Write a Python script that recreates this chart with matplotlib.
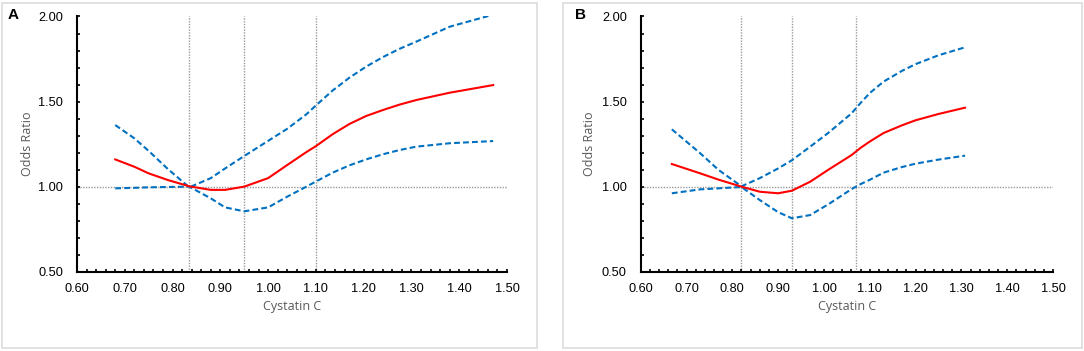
"""
Cystatin C と Odds Ratio（A / B パネル）
"""
import matplotlib
matplotlib.use('Agg')
import matplotlib.pyplot as plt
from matplotlib.ticker import MultipleLocator, FormatStrFormatter
from matplotlib.patches import Rectangle

plt.rcParams['font.family'] = ['Liberation Sans', 'DejaVu Sans']

# パネル A
a_x = [0.68, 0.72, 0.75, 0.79, 0.835, 0.88, 0.91, 0.95, 1.00, 1.04, 1.08, 1.10, 1.135,
       1.17, 1.205, 1.24, 1.275, 1.31, 1.38, 1.471]
a_or = [1.160, 1.117, 1.078, 1.039, 1.002, 0.981, 0.981, 1.000, 1.050, 1.127, 1.203, 1.238, 1.308,
        1.368, 1.415, 1.450, 1.482, 1.509, 1.552, 1.597]
a_lo = [0.990, 0.993, 0.996, 0.998, 1.000, 0.931, 0.878, 0.855, 0.878, 0.941, 1.000, 1.030, 1.082,
        1.125, 1.160, 1.190, 1.215, 1.235, 1.255, 1.268]
a_up_x = [0.68, 0.72, 0.75, 0.79, 0.835, 0.88, 0.91, 0.95, 1.00, 1.04, 1.08, 1.10, 1.135,
          1.17, 1.205, 1.24, 1.275, 1.31, 1.38, 1.461]
a_up = [1.362, 1.284, 1.210, 1.104, 0.996, 1.050, 1.107, 1.180, 1.269, 1.340, 1.425, 1.477, 1.565,
        1.640, 1.705, 1.761, 1.810, 1.852, 1.940, 2.003]
a_ref = [0.835, 0.95, 1.10]

# パネル B
b_x = [0.668, 0.73, 0.77, 0.82, 0.86, 0.90, 0.93, 0.97, 1.01, 1.06, 1.08, 1.10, 1.13,
       1.17, 1.20, 1.25, 1.308]
b_or = [1.133, 1.078, 1.041, 1.000, 0.970, 0.961, 0.976, 1.029, 1.100, 1.185, 1.228, 1.265, 1.315,
        1.360, 1.390, 1.427, 1.464]
b_up = [1.337, 1.196, 1.098, 1.002, 1.050, 1.107, 1.155, 1.235, 1.317, 1.430, 1.492, 1.550, 1.617,
        1.680, 1.720, 1.772, 1.819]
b_lo = [0.961, 0.984, 0.990, 0.998, 0.921, 0.850, 0.814, 0.833, 0.897, 0.985, 1.015, 1.040, 1.082,
        1.115, 1.135, 1.159, 1.182]
b_ref = [0.82, 0.93, 1.07]

xticks = [0.60, 0.70, 0.80, 0.90, 1.00, 1.10, 1.20, 1.30, 1.40, 1.50]
yticks = [0.50, 1.00, 1.50, 2.00]

RED = '#ff0000'
BLUE = '#0070c0'
GRAY = '#9a9a9a'
LABEL_FONT = ['Open Sans', 'DejaVu Sans']

fig = plt.figure(figsize=(10.84, 3.51), dpi=100)

# パネル枠
for x0, x1 in [(2, 537), (563, 1082)]:
    fig.patches.append(Rectangle((x0 / 1084, 3 / 351), (x1 - x0) / 1084, 345 / 351,
                                 transform=fig.transFigure, fill=False,
                                 edgecolor='#dcdcdc', linewidth=1.2))


def draw(ax, x, ors, up_x, up, lo, refs, ylab_x):
    ax.axhline(1.0, color=GRAY, linestyle=(0, (1, 1)), linewidth=1.0, zorder=1)
    for r in refs:
        ax.axvline(r, color=GRAY, linestyle=(0, (1, 1)), linewidth=1.0, zorder=1)
    ax.plot(up_x, up, color=BLUE, linestyle='--', linewidth=1.5, dashes=(2.8, 1.5))
    ax.plot(x, lo, color=BLUE, linestyle='--', linewidth=1.5, dashes=(2.8, 1.5))
    ax.plot(x, ors, color=RED, linewidth=1.5)
    ax.set_xlim(0.60, 1.50)
    ax.set_ylim(0.50, 2.00)
    ax.set_xticks(xticks)
    ax.set_yticks(yticks)
    ax.xaxis.set_minor_locator(MultipleLocator(0.02))
    ax.yaxis.set_minor_locator(MultipleLocator(0.1))
    ax.xaxis.set_major_formatter(FormatStrFormatter('%.2f'))
    ax.yaxis.set_major_formatter(FormatStrFormatter('%.2f'))
    ax.tick_params(which='both', direction='in', length=2.2, width=1.2, labelsize=9.2)
    ax.tick_params(axis='y', which='major', pad=10)
    ax.tick_params(axis='x', which='major', pad=8)
    for s in ['top', 'right']:
        ax.spines[s].set_visible(False)
    for s in ['left', 'bottom']:
        ax.spines[s].set_linewidth(1.5)
    ax.set_xlabel('Cystatin C', family=LABEL_FONT, fontsize=9, color='#595959', va='center')
    ax.set_ylabel('Odds Ratio', family=LABEL_FONT, fontsize=9, color='#595959', va='center')
    ax.xaxis.set_label_coords(0.5, -0.137)
    ax.yaxis.set_label_coords(ylab_x, 0.5)


ax1 = fig.add_axes([77 / 1084, 0.2259, 430 / 1084, 0.7271])
draw(ax1, a_x, a_or, a_up_x, a_up, a_lo, a_ref, -0.115)
ax2 = fig.add_axes([640.7 / 1084, 0.2259, 412.3 / 1084, 0.7271])
draw(ax2, b_x, b_or, b_x, b_up, b_lo, b_ref, -0.124)

fig.text(13 / 1084, 1 - 15 / 351, 'A', fontsize=11, fontweight='bold', ha='center', va='center')
fig.text(580 / 1084, 1 - 15 / 351, 'B', fontsize=11, fontweight='bold', ha='center', va='center')

plt.savefig('out.png', dpi=100)
plt.close()
